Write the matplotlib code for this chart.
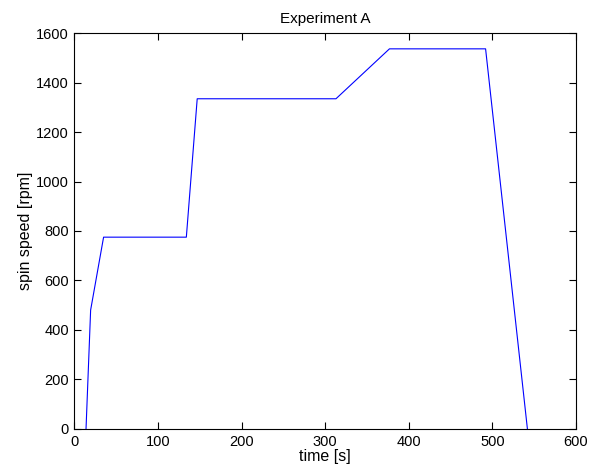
import matplotlib.pyplot as plt

# readings
time_s = [14, 19.5, 35, 134, 147, 313, 377, 492, 542]
speed_rpm = [0, 480, 775, 775, 1335, 1335, 1537, 1537, 0]

x_ticks = [0, 100, 200, 300, 400, 500, 600]
y_ticks = [0, 200, 400, 600, 800, 1000, 1200, 1400, 1600]

plt.rcParams['font.family'] = ['Liberation Sans', 'DejaVu Sans']

fig = plt.figure(figsize=(5.89, 4.70), dpi=100)
ax = fig.add_axes([0.1262, 0.0879, 0.8515, 0.8413])

ax.plot(time_s, speed_rpm, color='blue', linewidth=0.8)

ax.set_xlim(0, 600)
ax.set_ylim(0, 1600)
ax.set_xticks(x_ticks)
ax.set_yticks(y_ticks)
ax.tick_params(direction='in', length=5, width=0.8, top=True, right=True,
               labelsize=10.5)
ax.tick_params(axis='x', pad=4.5)
ax.tick_params(axis='y', pad=4)
for side in ax.spines.values():
    side.set_linewidth(0.8)

ax.set_title('Experiment A', fontsize=11, pad=7.5)
ax.set_xlabel('time [s]', fontsize=11.5, labelpad=0)
ax.set_ylabel('spin speed [rpm]', fontsize=11.5, labelpad=2)

fig.savefig('out.png', dpi=100, facecolor='white')
